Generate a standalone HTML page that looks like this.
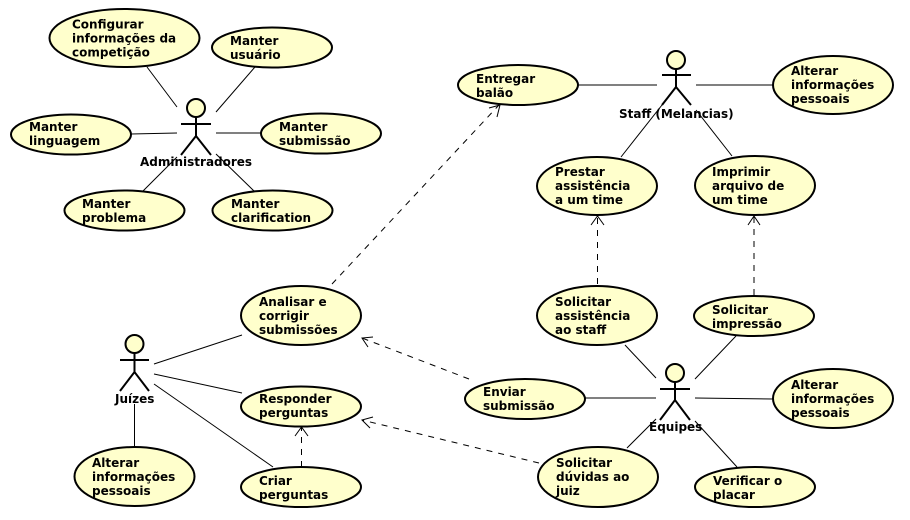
<!DOCTYPE html>
<html>
<head>
<meta charset="utf-8">
<style>
html,body{margin:0;padding:0;background:#fff}
svg{display:block}
text{font-family:"DejaVu Sans",sans-serif;font-weight:bold;font-size:12px;fill:#000}
.e{fill:#ffffcc;stroke:#000;stroke-width:2}
.a{fill:#ffffcc;stroke:#000;stroke-width:2}
.s{stroke:#000;stroke-width:2;fill:none}
.l{stroke:#000;stroke-width:1;fill:none}
.d{stroke:#000;stroke-width:1;fill:none;stroke-dasharray:6 6}
</style>
</head>
<body>
<svg width="910" height="520" viewBox="0 0 910 520" xmlns="http://www.w3.org/2000/svg">
<rect width="910" height="520" fill="#fff"/>

<!-- solid connectors -->
<path class="l" d="M147 67L177 107M255 67L216 112M131 134L177 133M216 133L261 133M143 191L177 157M254 191L216 154"/>
<path class="l" d="M578 85H657M696 85H773M621 157L662 105M732 156L696 110"/>
<path class="l" d="M242 335L154 364M242 393L154 374M273 467L154 384M134.500 447V404"/>
<path class="l" d="M625 345L656 378M736 336L695 379M585 398H656M695 398L773 399M627 448L656 419M737 467L695 421"/>

<!-- dashed connectors -->
<path class="d" d="M332 284L499 105"/>
<path class="l" d="M489 108L500 105L497 117"/>
<path class="d" d="M469 379L362 338"/>
<path class="l" d="M373 337L362 338L368 347"/>
<path class="d" d="M539 463L362 420"/>
<path class="l" d="M373 417L362 420L370 428"/>
<path class="d" d="M301.500 467V427"/>
<path class="l" d="M295 436L301.500 427L308 436"/>
<path class="d" d="M597.500 284V216"/>
<path class="l" d="M591 225L597.500 216L604 225"/>
<path class="d" d="M754 295V216"/>
<path class="l" d="M748 225L754 216L760 225"/>

<!-- use cases -->
<ellipse class="e" cx="124.500" cy="38" rx="75" ry="29"/>
<ellipse class="e" cx="272" cy="47.500" rx="60" ry="20"/>
<ellipse class="e" cx="71" cy="134.500" rx="60" ry="20"/>
<ellipse class="e" cx="321" cy="133.500" rx="60" ry="20"/>
<ellipse class="e" cx="124.500" cy="210.500" rx="60" ry="20"/>
<ellipse class="e" cx="272.500" cy="210.500" rx="60" ry="20"/>
<ellipse class="e" cx="518" cy="85" rx="60" ry="20"/>
<ellipse class="e" cx="833" cy="85" rx="60" ry="29"/>
<ellipse class="e" cx="597" cy="186" rx="60" ry="29"/>
<ellipse class="e" cx="755" cy="185.500" rx="60" ry="29.500"/>
<ellipse class="e" cx="301" cy="315.500" rx="60" ry="29.500"/>
<ellipse class="e" cx="301" cy="406.500" rx="60" ry="20"/>
<ellipse class="e" cx="301" cy="487" rx="60" ry="20"/>
<ellipse class="e" cx="134.500" cy="476.500" rx="60" ry="29.500"/>
<ellipse class="e" cx="525" cy="399" rx="60" ry="20"/>
<ellipse class="e" cx="597" cy="315.500" rx="60" ry="29.500"/>
<ellipse class="e" cx="754" cy="316" rx="60" ry="20"/>
<ellipse class="e" cx="833" cy="398.500" rx="60" ry="29.500"/>
<ellipse class="e" cx="598" cy="477" rx="60" ry="30"/>
<ellipse class="e" cx="755" cy="487" rx="60" ry="20"/>

<!-- actors -->
<circle class="a" cx="196" cy="108" r="9"/>
<path class="s" d="M196 117V136M181 124H211M181 155L196 136L211 155"/>
<circle class="a" cx="676" cy="60" r="9"/>
<path class="s" d="M676 69V87M662 75H691M662 105L676 87L691 105"/>
<circle class="a" cx="134.500" cy="344" r="9"/>
<path class="s" d="M134.500 353V372M120 360H149M120 391L134.500 372L149 391"/>
<circle class="a" cx="675" cy="373" r="9"/>
<path class="s" d="M675 382V400M660 389H690M660 420L675 400L690 420"/>

<!-- use case labels -->
<text x="72" y="28.500">Configurar</text><text x="72" y="42.500">informações da</text><text x="72" y="56.500">competição</text>
<text x="230" y="45">Manter</text><text x="230" y="59">usuário</text>
<text x="29" y="131">Manter</text><text x="29" y="145">linguagem</text>
<text x="279" y="131">Manter</text><text x="279" y="145">submissão</text>
<text x="82" y="208">Manter</text><text x="82" y="222">problema</text>
<text x="231" y="208">Manter</text><text x="231" y="222">clarification</text>
<text x="476" y="83">Entregar</text><text x="476" y="97">balão</text>
<text x="791" y="75">Alterar</text><text x="791" y="89">informações</text><text x="791" y="103">pessoais</text>
<text x="555" y="176">Prestar</text><text x="555" y="190">assistência</text><text x="555" y="204">a um time</text>
<text x="712" y="176">Imprimir</text><text x="712" y="190">arquivo de</text><text x="712" y="204">um time</text>
<text x="259" y="306">Analisar e</text><text x="259" y="320">corrigir</text><text x="259" y="334">submissões</text>
<text x="259" y="403">Responder</text><text x="259" y="417">perguntas</text>
<text x="259" y="485">Criar</text><text x="259" y="499">perguntas</text>
<text x="92" y="467">Alterar</text><text x="92" y="481">informações</text><text x="92" y="495">pessoais</text>
<text x="483" y="396">Enviar</text><text x="483" y="410">submissão</text>
<text x="555" y="306">Solicitar</text><text x="555" y="320">assistência</text><text x="555" y="334">ao staff</text>
<text x="712" y="314">Solicitar</text><text x="712" y="328">impressão</text>
<text x="791" y="389">Alterar</text><text x="791" y="403">informações</text><text x="791" y="417">pessoais</text>
<text x="556" y="467">Solicitar</text><text x="556" y="481">dúvidas ao</text><text x="556" y="495">juiz</text>
<text x="713" y="485">Verificar o</text><text x="713" y="499">placar</text>

<!-- actor labels -->
<text x="140" y="166">Administradores</text>
<text x="619" y="118">Staff (Melancias)</text>
<text x="115" y="403">Juízes</text>
<text x="649" y="431">Equipes</text>
</svg>
</body>
</html>
